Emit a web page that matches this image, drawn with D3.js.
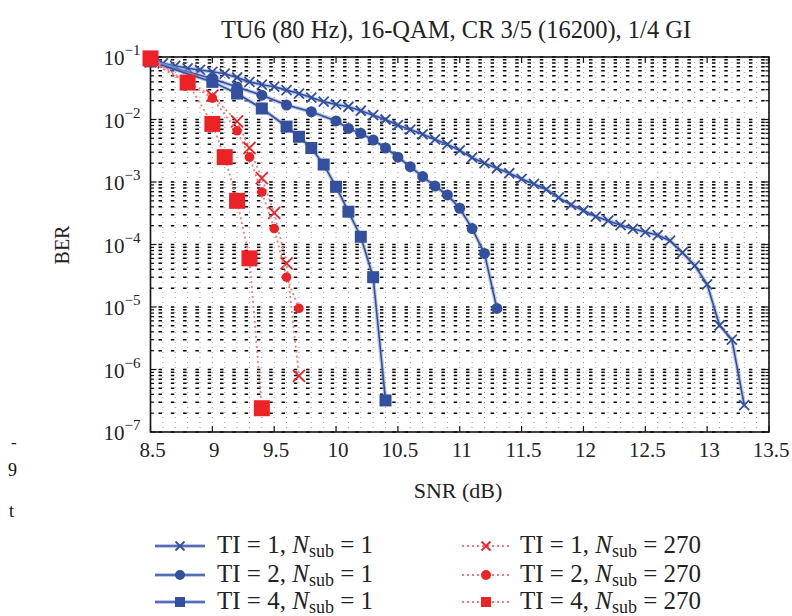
<!DOCTYPE html>
<html><head><meta charset="utf-8">
<script src="https://cdn.jsdelivr.net/npm/d3@7"></script>
<style>
body{margin:0;background:#fff;}
svg text{font-family:"Liberation Serif","Times New Roman",serif;}
</style></head>
<body><svg id="c" width="792" height="616"></svg>
<script>
// ---- data ----
const title = "TU6 (80 Hz), 16-QAM, CR 3/5 (16200), 1/4 GI";
const xTicks = [8.5, 9, 9.5, 10, 10.5, 11, 11.5, 12, 12.5, 13, 13.5];
const yExps = [-1, -2, -3, -4, -5, -6, -7];

const snrTI1 = [8.5,8.6,8.7,8.8,8.9,9.0,9.1,9.2,9.3,9.4,9.5,9.6,9.7,9.8,9.9,10.0,10.1,10.2,10.3,10.4,10.5,10.6,10.7,10.8,10.9,11.0,11.1,11.2,11.3,11.4,11.5,11.6,11.7,11.8,11.9,12.0,12.1,12.2,12.3,12.4,12.5,12.6,12.7,12.8,12.9,13.0,13.1,13.2,13.3];
const berTI1 = [0.089,0.079,0.072,0.066,0.062,0.058,0.054,0.047,0.040,0.036,0.0335,0.0295,0.026,0.0224,0.0193,0.0174,0.016,0.0138,0.0117,0.010,0.0081,0.0069,0.0058,0.0048,0.0040,0.0032,0.00245,0.0020,0.00166,0.00138,0.00112,0.00093,0.00076,0.00056,0.00043,0.00035,0.00028,0.00024,0.000204,0.000178,0.000158,0.000141,0.000115,7.4e-5,4.6e-5,2.3e-5,5.1e-6,3.0e-6,2.7e-7];

const snrTI2 = [8.5,9.0,9.2,9.4,9.6,9.8,10.0,10.1,10.2,10.3,10.4,10.5,10.6,10.7,10.8,10.9,11.0,11.1,11.2,11.3];
const berTI2 = [0.085,0.045,0.033,0.0245,0.017,0.0133,0.0095,0.0072,0.006,0.0047,0.0035,0.0025,0.00176,0.00122,0.00086,0.00062,0.00038,0.00018,7.2e-5,9.5e-6];

const snrTI4 = [8.5,9.0,9.2,9.4,9.6,9.7,9.8,9.9,10.0,10.1,10.2,10.3,10.4];
const berTI4 = [0.085,0.040,0.026,0.015,0.0077,0.0053,0.0035,0.0019,8.4e-4,3.35e-4,1.33e-4,3.0e-5,3.2e-7];

const snrTI1s = [8.5,9.0,9.2,9.3,9.4,9.5,9.6,9.7];
const berTI1s = [0.085,0.024,0.0093,0.0035,0.00115,3.2e-4,5.0e-5,7.9e-7];

const snrTI2s = [8.5,9.0,9.2,9.3,9.4,9.5,9.6,9.7];
const berTI2s = [0.085,0.022,0.0066,0.0025,6.9e-4,1.8e-4,3.0e-5,9.5e-6];

const snrTI4s = [8.5,8.8,9.0,9.1,9.2,9.3,9.4];
const berTI4s = [0.095,0.039,0.0085,0.0025,5.0e-4,6.0e-5,2.4e-7];

const seriesNames = ["TI = 1","TI = 2","TI = 4"];
const nsubLabels = ["1","270"];

// ---- setup ----
const svg = d3.select("#c");
const L=150.5, R=769, T=57, B=432;
const x = d3.scaleLinear().domain([8.5,13.5]).range([L,R]);
const y = d3.scaleLog().domain([1e-7,1e-1]).range([B,T]);
const blue="#33509f", red="#ec2227";

// grid
const g = svg.append("g");
const xMinor = d3.range(0,51).map(i=>8.5+i*0.1);
const yMinor = [];
for(let e=-7;e<-1;e++) for(let m=1;m<10;m++) yMinor.push(m*Math.pow(10,e));
yMinor.push(0.1);
g.selectAll(".vg").data(xMinor).join("line")
  .attr("x1",d=>x(d)).attr("x2",d=>x(d)).attr("y1",T).attr("y2",B)
  .attr("stroke","#000").attr("stroke-width",1).attr("stroke-dasharray","1,4").attr("opacity",0.4);
g.selectAll(".hg").data(yMinor).join("line")
  .attr("x1",L).attr("x2",R).attr("y1",d=>y(d)).attr("y2",d=>y(d))
  .attr("stroke","#000").attr("stroke-width",1.5).attr("stroke-dasharray","3.5,8.8").attr("stroke-dashoffset",-8);

// frame
svg.append("rect").attr("x",L).attr("y",T).attr("width",R-L).attr("height",B-T)
  .attr("fill","none").attr("stroke","#111").attr("stroke-width",1.6);

// ticks (inward)
const tk = svg.append("g").attr("stroke","#111").attr("stroke-width",1.2);
xTicks.forEach(v=>{
  tk.append("line").attr("x1",x(v)).attr("x2",x(v)).attr("y1",B).attr("y2",B-6);
  tk.append("line").attr("x1",x(v)).attr("x2",x(v)).attr("y1",T).attr("y2",T+6);
});
yMinor.forEach(v=>{
  const len = Math.abs(Math.log10(v)-Math.round(Math.log10(v)))<1e-9 ? 6 : 3.5;
  tk.append("line").attr("x1",L).attr("x2",L+len).attr("y1",y(v)).attr("y2",y(v));
  tk.append("line").attr("x1",R).attr("x2",R-len).attr("y1",y(v)).attr("y2",y(v));
});

// tick labels
svg.append("g").selectAll("text").data(xTicks).join("text")
  .attr("x",d=>x(d)+2).attr("y",B+25).attr("text-anchor","middle")
  .attr("font-size",21).attr("fill","#222").text(d=>d);
const yl = svg.append("g").selectAll("text").data(yExps).join("text")
  .attr("x",L-10).attr("y",d=>y(Math.pow(10,d))+8).attr("text-anchor","end")
  .attr("font-size",21).attr("fill","#222");
yl.append("tspan").text("10");
yl.append("tspan").attr("dy",-10).attr("font-size",15).text(d=>"\u2212"+(-d));

// titles
svg.append("text").attr("x",456).attr("y",38).attr("text-anchor","middle")
  .attr("font-size",24.5).attr("fill","#222").text(title);
svg.append("text").attr("x",458).attr("y",498).attr("text-anchor","middle")
  .attr("font-size",22).attr("fill","#222").text("SNR (dB)");
svg.append("text").attr("transform","translate(69,245) rotate(-90)").attr("text-anchor","middle")
  .attr("font-size",20).attr("fill","#222").text("BER");

// marker drawing
function marker(sel, type, color, size){
  if(type==="x"){
    sel.append("path").attr("d",`M${-size},${-size}L${size},${size}M${-size},${size}L${size},${-size}`)
      .attr("stroke",color).attr("stroke-width",1.8).attr("fill","none");
  } else if(type==="o"){
    sel.append("circle").attr("r",size).attr("fill",color);
  } else {
    sel.append("rect").attr("x",-size).attr("y",-size).attr("width",2*size).attr("height",2*size).attr("fill",color);
  }
}

const series = [
  {xs:snrTI1,ys:berTI1,c:blue,t:"x",s:5,dash:false},
  {xs:snrTI2,ys:berTI2,c:blue,t:"o",s:5.5,dash:false},
  {xs:snrTI4,ys:berTI4,c:blue,t:"s",s:6,dash:false},
  {xs:snrTI1s,ys:berTI1s,c:red,t:"x",s:6,dash:true},
  {xs:snrTI2s,ys:berTI2s,c:red,t:"o",s:4.8,dash:true},
  {xs:snrTI4s,ys:berTI4s,c:red,t:"s",s:8,dash:true},
];
const line = d3.line().x(d=>x(d[0])).y(d=>y(d[1]));
const plot = svg.append("g");
series.forEach(s=>{
  const pts = s.xs.map((v,i)=>[v,s.ys[i]]);
  if(!s.dash){
    plot.append("path").attr("d",line(pts)).attr("fill","none")
      .attr("stroke","#8fa3d6").attr("stroke-width",4).attr("opacity",0.6);
    plot.append("path").attr("d",line(pts)).attr("fill","none")
      .attr("stroke",s.c).attr("stroke-width",1.6);
  } else {
    plot.append("path").attr("d",line(pts)).attr("fill","none")
      .attr("stroke","#f27a7e").attr("stroke-width",1.8).attr("stroke-dasharray","2,3");
  }
  pts.forEach(p=>{
    const m = plot.append("g").attr("transform",`translate(${x(p[0])},${y(p[1])})`);
    marker(m,s.t,s.c,s.s);
  });
});

// legend
const leg = svg.append("g");
const rows=[546,575,602];
series.forEach((s,i)=>{
  const col = i<3?0:1, r=i%3;
  const x0 = col===0?155:462, x1 = col===0?205:510, xm=(x0+x1)/2, yy=rows[r];
  if(!s.dash){
    leg.append("line").attr("x1",x0).attr("x2",x1).attr("y1",yy).attr("y2",yy).attr("stroke","#8fa3d6").attr("stroke-width",4).attr("opacity",0.6);
    leg.append("line").attr("x1",x0).attr("x2",x1).attr("y1",yy).attr("y2",yy).attr("stroke",s.c).attr("stroke-width",1.6);
  } else {
    leg.append("line").attr("x1",x0).attr("x2",x1).attr("y1",yy).attr("y2",yy).attr("stroke","#f27a7e").attr("stroke-width",1.8).attr("stroke-dasharray","2,3");
  }
  const m = leg.append("g").attr("transform",`translate(${xm},${yy})`);
  marker(m,s.t,s.c,s.t==="s"?5:(s.t==="o"?5:4.5));
  const t = leg.append("text").attr("x",col===0?217:520).attr("y",yy+7).attr("font-size",25).attr("fill","#222");
  t.append("tspan").text(seriesNames[r]+", ");
  t.append("tspan").attr("font-style","italic").text("N");
  t.append("tspan").attr("font-size",18).attr("dy",4).text("sub");
  t.append("tspan").attr("dy",-4).text(" = "+nsubLabels[col]);
});

// stray cropped glyph fragments at the left edge
svg.append("text").attr("x",11).attr("y",448).attr("font-size",17).attr("fill","#111").text("-");
svg.append("text").attr("x",8).attr("y",476).attr("font-size",18).attr("fill","#111").text("9");
svg.append("text").attr("x",9).attr("y",517).attr("font-size",18).attr("fill","#111").text("t");
</script></body></html>
